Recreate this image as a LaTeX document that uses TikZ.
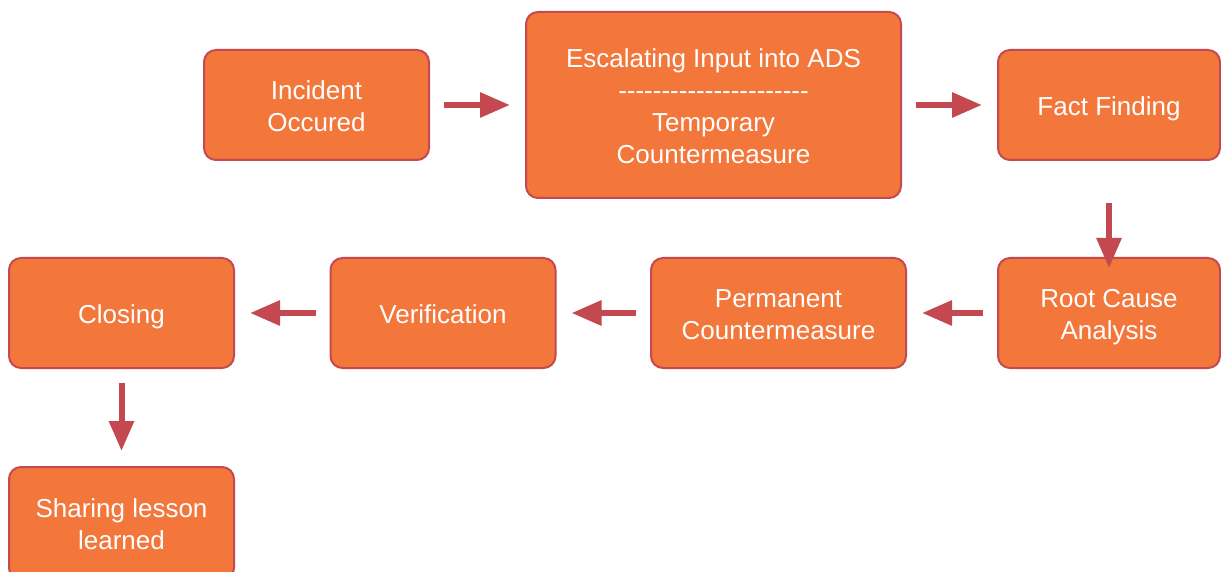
\documentclass[tikz,border=0pt]{standalone}
\usepackage{fontspec}
\setmainfont{Liberation Sans}
\usetikzlibrary{arrows.meta}
\definecolor{boxfill}{RGB}{243,118,58}
\definecolor{boxedge}{RGB}{196,74,80}
\definecolor{flow}{RGB}{195,72,80}
\newcommand\hyrow{-{}-{}-{}-{}-{}-{}-{}-{}-{}-{}-{}-{}-{}-{}-{}-{}-{}-{}-{}-{}-{}-}
% centred multi-line label; extra room above lets it sit a little lower in the box
\newcommand\stagetext[1]{\raisebox{0pt}[\dimexpr\height+7.5pt\relax][\depth]{\begin{tabular}{@{}c@{}}#1\end{tabular}}}
\begin{document}
\begin{tikzpicture}[x=1pt,y=-1pt,
  stage/.style={draw=boxedge, line width=2pt, fill=boxfill, rounded corners=12pt,
    text=white, font=\fontsize{26}{32}\selectfont, inner sep=0pt,
    minimum width=225pt, minimum height=110pt},
  flowarrow/.style={draw=flow, line width=6pt, -{Triangle[length=30pt,width=24pt]},
    shorten <=14pt, shorten >=15pt}]
\useasboundingbox (0,0) rectangle (1221,572);

% process stages
\node[stage] (inc) at (316.5,105) {\stagetext{Incident\\Occured}};
\node[stage, minimum width=375pt, minimum height=186pt] (esc) at (713.5,105)
  {\stagetext{Escalating Input into ADS\\\hyrow\\Temporary\\Countermeasure}};
\node[stage, minimum width=222pt] (fact) at (1109,105) {\stagetext{Fact Finding}};
\node[stage, minimum width=222pt] (root) at (1109,313) {\stagetext{Root Cause\\Analysis}};
\node[stage, minimum width=255pt] (perm) at (778.5,313) {\stagetext{Permanent\\Countermeasure}};
\node[stage] (ver) at (443,313) {\stagetext{Verification}};
\node[stage] (clos) at (121.5,313) {\stagetext{Closing}};
\node[stage, minimum height=113pt] (share) at (121.5,523.5) {\stagetext{Sharing lesson\\learned}};

% flow between stages
\draw[flowarrow] (inc) -- (esc);
\draw[flowarrow] (esc) -- (fact);
\draw[flowarrow, shorten <=42pt, shorten >=-11pt] (fact) -- (root);
\draw[flowarrow] (root) -- (perm);
\draw[flowarrow] (perm) -- (ver);
\draw[flowarrow] (ver) -- (clos);
\draw[flowarrow] (clos) -- (share);
\end{tikzpicture}
\end{document}
